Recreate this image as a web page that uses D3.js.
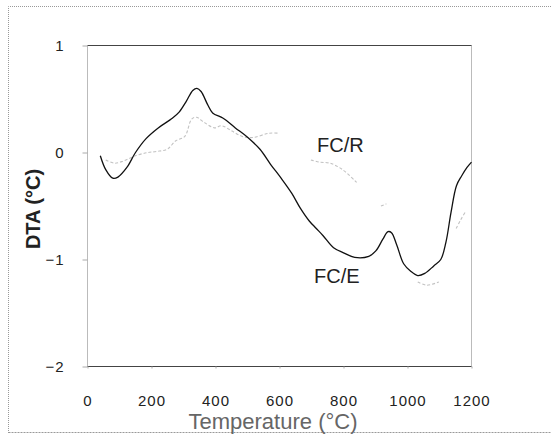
<!DOCTYPE html>
<html>
<head>
<meta charset="utf-8">
<script src="https://cdn.jsdelivr.net/npm/d3@7"></script>
<style>
  html, body { margin: 0; padding: 0; background: #fff; }
  svg { display: block; font-family: "Liberation Sans", Arial, sans-serif; }
</style>
</head>
<body>
<svg id="chart" width="551" height="434"></svg>
<script>
// DTA curves (temperature in °C, DTA in °C)
const feTemp = [40, 57, 79, 95, 123, 150, 183, 221, 265, 287, 309, 329, 342, 355, 375, 391, 424, 462, 501, 539, 572, 605, 638, 665, 693, 715, 737, 769, 802, 835, 879, 901, 923, 939, 950, 967, 988, 1010, 1032, 1054, 1082, 1104, 1120, 1136, 1153, 1169, 1186, 1200];
const feDTA  = [-0.03, -0.16, -0.24, -0.23, -0.14, 0.0, 0.13, 0.23, 0.32, 0.38, 0.48, 0.58, 0.60, 0.57, 0.45, 0.37, 0.32, 0.23, 0.14, 0.03, -0.11, -0.24, -0.38, -0.52, -0.64, -0.71, -0.78, -0.89, -0.94, -0.98, -0.97, -0.92, -0.81, -0.74, -0.75, -0.87, -1.04, -1.11, -1.15, -1.13, -1.06, -1.0, -0.84, -0.56, -0.31, -0.22, -0.14, -0.09];

// FC/R trace: null marks stretches where the trace is not drawn
const frTemp = [57, 84, 112, 150, 189, 216, 249, 276, 304, 325, 340, 365, 397, 419, 452, 484, 517, 567, 600, 650, 698, 725, 758, 797, 841, 880, 917, 934, 980, 1032, 1060, 1098, 1125, 1152, 1166, 1180];
const frDTA  = [-0.07, -0.10, -0.08, -0.03, 0.0, 0.01, 0.03, 0.11, 0.15, 0.31, 0.33, 0.28, 0.23, 0.25, 0.20, 0.15, 0.14, 0.18, 0.18, null, -0.07, -0.09, -0.10, -0.16, -0.28, null, -0.50, -0.48, null, -1.21, -1.24, -1.21, null, -0.71, -0.63, -0.56];

const xTicks = [0, 200, 400, 600, 800, 1000, 1200];
const yTicks = [-2, -1, 0, 1];
const seriesLabels = ["FC/R", "FC/E"];

const svg = d3.select("#chart");
const x = d3.scaleLinear().domain([0, 1200]).range([87.5, 471.5]);
const y = d3.scaleLinear().domain([-2, 1]).range([366.5, 45.5]);

// outer frame (dotted)
svg.append("path")
  .attr("d", "M8.5,433 L8.5,6.5 L551,6.5")
  .attr("fill", "none").attr("stroke", "#999").attr("stroke-dasharray", "1,1");
svg.append("line")
  .attr("x1", 8.5).attr("x2", 551).attr("y1", 432.5).attr("y2", 432.5)
  .attr("stroke", "#999").attr("stroke-dasharray", "2,1");

// plot frame
svg.append("line").attr("x1", x(0)).attr("x2", x(1200)).attr("y1", y(1)).attr("y2", y(1))
  .attr("stroke", "#444");
svg.append("line").attr("x1", x(0)).attr("x2", x(1200)).attr("y1", y(-2)).attr("y2", y(-2))
  .attr("stroke", "#444");
svg.append("line").attr("x1", x(0)).attr("x2", x(0)).attr("y1", y(1)).attr("y2", y(-2))
  .attr("stroke", "#777").attr("stroke-dasharray", "1,1");
svg.append("line").attr("x1", x(1200)).attr("x2", x(1200)).attr("y1", y(1)).attr("y2", y(-2))
  .attr("stroke", "#777").attr("stroke-dasharray", "1,1");

// axes
const xAxis = svg.append("g")
  .attr("transform", `translate(0,${y(-2)})`)
  .call(d3.axisBottom(x).tickValues(xTicks).tickFormat(d3.format("d")).tickSizeInner(2).tickSizeOuter(0).tickPadding(27));
const yAxis = svg.append("g")
  .attr("transform", `translate(${x(0)},0)`)
  .call(d3.axisLeft(y).tickValues(yTicks).tickFormat(d3.format("d")).tickSizeInner(5).tickSizeOuter(0).tickPadding(18));
[xAxis, yAxis].forEach(g => {
  g.select(".domain").remove();
  g.selectAll(".tick line").attr("stroke", "#aaa");
  g.selectAll(".tick text")
    .attr("fill", "#222")
    .style("font-size", "15px")
    .style("letter-spacing", "1px")
    .style("font-family", "'Liberation Sans', Arial, sans-serif");
});

// curves
const line = d3.line()
  .defined((d) => d[1] !== null)
  .x((d) => x(d[0]))
  .y((d) => y(d[1]))
  .curve(d3.curveCatmullRom.alpha(0.5));

svg.append("path")
  .datum(frTemp.map((t, i) => [t, frDTA[i]]))
  .attr("d", line)
  .attr("fill", "none")
  .attr("stroke", "#c2c2c2")
  .attr("stroke-width", 1.1)
  .attr("stroke-dasharray", "3,2");

svg.append("path")
  .datum(feTemp.map((t, i) => [t, feDTA[i]]))
  .attr("d", line)
  .attr("fill", "none")
  .attr("stroke", "#111")
  .attr("stroke-width", 1.3);

// series labels
svg.append("text").attr("x", 317).attr("y", 152).text(seriesLabels[0])
  .attr("fill", "#222").style("font-size", "20px");
svg.append("text").attr("x", 314).attr("y", 283).text(seriesLabels[1])
  .attr("fill", "#222").style("font-size", "20px");

// axis titles
svg.append("text")
  .attr("transform", "translate(40,209) rotate(-90)")
  .attr("text-anchor", "middle")
  .attr("fill", "#222")
  .style("font-size", "20px")
  .style("font-weight", "bold")
  .text("DTA (°C)");
svg.append("text")
  .attr("x", 273).attr("y", 429)
  .attr("text-anchor", "middle")
  .attr("fill", "#666")
  .style("font-size", "22px")
  .text("Temperature (°C)");
</script>
</body>
</html>
